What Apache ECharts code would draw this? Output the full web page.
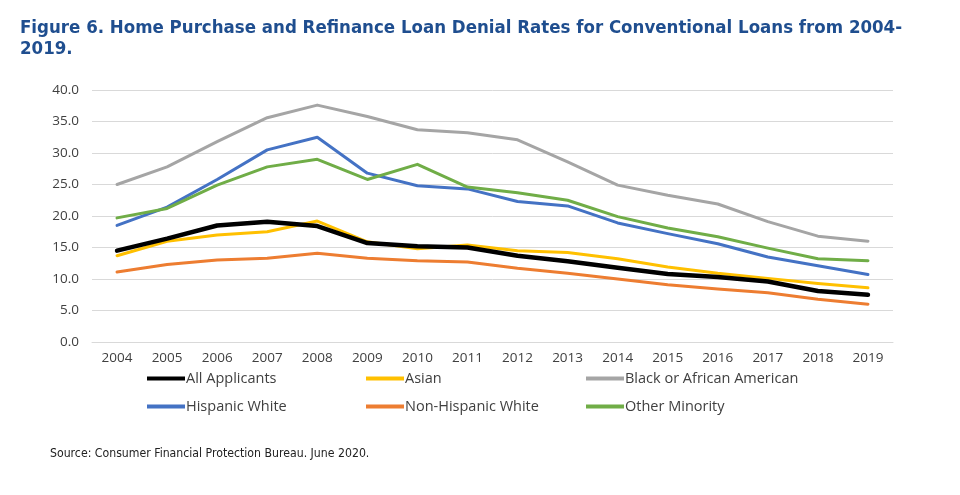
<!DOCTYPE html>
<html><head><meta charset="utf-8">
<style>html,body{margin:0;padding:0;background:#fff}#c{width:960px;height:495px}</style>
<script src="https://cdn.jsdelivr.net/npm/echarts@6/dist/echarts.min.js"></script>
</head><body><div id="c"></div>
<script>
var years = ['2004','2005','2006','2007','2008','2009','2010','2011','2012','2013','2014','2015','2016','2017','2018','2019'];
var allApplicants = [14.5,16.4,18.5,19.1,18.4,15.7,15.2,15.0,13.7,12.8,11.8,10.8,10.3,9.6,8.1,7.5];
var asian = [13.7,16.0,17.0,17.5,19.2,15.9,14.8,15.4,14.5,14.2,13.2,11.9,10.9,10.1,9.3,8.6];
var black = [25.0,27.8,31.8,35.6,37.6,35.8,33.7,33.2,32.1,28.6,24.9,23.3,21.9,19.1,16.8,16.0];
var hispanicWhite = [18.5,21.4,25.8,30.5,32.5,26.8,24.8,24.3,22.3,21.6,18.9,17.2,15.6,13.5,12.1,10.7];
var nonHispanicWhite = [11.1,12.3,13.0,13.3,14.1,13.3,12.9,12.7,11.7,10.9,10.0,9.1,8.4,7.8,6.8,6.0];
var otherMinority = [19.7,21.2,24.9,27.8,29.0,25.8,28.2,24.6,23.7,22.5,19.9,18.1,16.7,14.9,13.2,12.9];
var yTicks = [0,5,10,15,20,25,30,35,40];

var names = ['All Applicants','Asian','Black or African American','Hispanic White','Non-Hispanic White','Other Minority'];
var colors = ['#000000','#FFC000','#A5A5A5','#4472C4','#ED7D31','#70AD47'];
var widths = [4.5,3,3,3,3,3];
var datas = [allApplicants,asian,black,hispanicWhite,nonHispanicWhite,otherMinority];
var legendPos = [[142,366],[361,366],[581,366],[142,394],[361,394],[581,394]];

var series = names.map(function(n,i){
  return {name:n,type:'line',data:datas[i],symbol:'none',smooth:false,
    lineStyle:{color:colors[i],width:widths[i],cap:'round',join:'round'},itemStyle:{color:colors[i]},
    z: i===0?3:2};
});
var legends = names.map(function(n,i){
  return {data:[{name:n,icon:'path://M0,0 L38,0 L38,4 L0,4 Z'}],left:legendPos[i][0],top:legendPos[i][1],
    itemWidth:38,itemHeight:i===0?5:4,itemGap:2,selectedMode:false,
    textStyle:{fontFamily:'Open Sans',fontSize:14.5,color:'#404040',padding:[0,0,0,-4]}};
});

var chart = echarts.init(document.getElementById('c'),null,{renderer:'canvas'});
chart.setOption({
  animation:false,
  backgroundColor:'#fff',
  title:[{text:'Figure 6. Home Purchase and Refinance Loan Denial Rates for Conventional Loans from 2004-\n2019.',
    left:15,top:13,textStyle:{fontFamily:'"DejaVu Sans Condensed", Roboto, sans-serif',fontWeight:'bold',fontSize:18.5,color:'#1F4E8F',lineHeight:21}},
    {text:'Source: Consumer Financial Protection Bureau. June 2020.',left:45,top:443,
    textStyle:{fontFamily:'"DejaVu Sans Condensed", Roboto, sans-serif',fontWeight:'normal',fontSize:12.2,color:'#222'}}],
  legend:legends,
  grid:{left:92,right:67,top:90,bottom:153},
  xAxis:{type:'category',data:years,boundaryGap:true,
    axisLine:{show:true,lineStyle:{color:'#D9D9D9'}},axisTick:{show:false},
    axisLabel:{fontFamily:'Open Sans',fontSize:13.5,color:'#404040',margin:9,interval:0}},
  yAxis:{type:'value',min:0,max:40,interval:5,
    axisLine:{show:false},axisTick:{show:false},
    splitLine:{lineStyle:{color:'#D9D9D9',width:1}},
    axisLabel:{fontFamily:'Open Sans',fontSize:13.5,color:'#404040',margin:13,
      formatter:function(v){return yTicks.indexOf(v)>=0?v.toFixed(1):'';}}},
  series:series
});
</script></body></html>
